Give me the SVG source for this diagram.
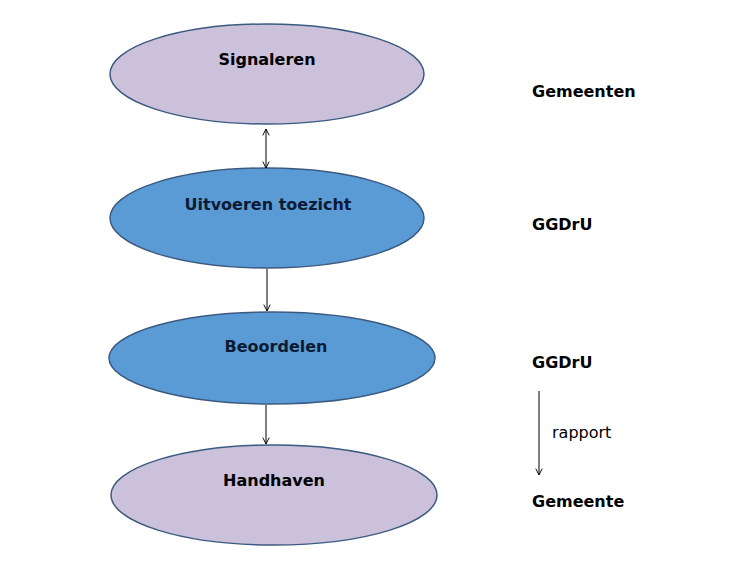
<svg xmlns="http://www.w3.org/2000/svg" width="731" height="569" viewBox="0 0 731 569">
<style>
.e{stroke:#3b5a80;stroke-width:1.5}
.p{fill:#ccc1da}.b{fill:#5b9bd5}
.t{font-family:"DejaVu Sans",Verdana,sans-serif;font-weight:bold;font-size:16px;text-anchor:middle}
.r{font-family:"DejaVu Sans",Verdana,sans-serif;font-weight:bold;font-size:16px}
.c{stroke:#000;stroke-width:1;fill:none}
</style>
<defs><marker id="a" viewBox="0 0 10 10" refX="9" refY="5" markerWidth="8" markerHeight="8" orient="auto-start-reverse"><path d="M1,1 L9,5 L1,9" fill="none" stroke="#000" stroke-width="1.2"/></marker></defs>
<rect width="731" height="569" fill="#fff"/>
<g id="n1"><ellipse class="e p" cx="267" cy="74" rx="157" ry="50"/><text class="t" x="267" y="65" fill="#000">Signaleren</text></g>
<g id="n2"><ellipse class="e b" cx="267" cy="218" rx="157" ry="50"/><text class="t" x="268" y="210" fill="#0d1a33">Uitvoeren toezicht</text></g>
<g id="n3"><ellipse class="e b" cx="272" cy="358" rx="163" ry="46"/><text class="t" x="276" y="352" fill="#0d1a33">Beoordelen</text></g>
<g id="n4"><ellipse class="e p" cx="274" cy="495" rx="163" ry="50"/><text class="t" x="274" y="486" fill="#000">Handhaven</text></g>
<g id="connectors">
<line class="c" x1="266" y1="129" x2="266" y2="168" marker-start="url(#a)" marker-end="url(#a)"/>
<line class="c" x1="267" y1="269" x2="267" y2="311" marker-end="url(#a)"/>
<line class="c" x1="266" y1="405" x2="266" y2="444" marker-end="url(#a)"/>
<line class="c" x1="539" y1="391" x2="539" y2="475" marker-end="url(#a)"/>
</g>
<g id="labels">
<text class="r" x="532" y="97">Gemeenten</text>
<text class="r" x="532" y="230">GGDrU</text>
<text class="r" x="532" y="368">GGDrU</text>
<text x="552" y="438" font-family="DejaVu Sans,Verdana,sans-serif" font-size="16">rapport</text>
<text class="r" x="532" y="507">Gemeente</text>
</g>
</svg>
